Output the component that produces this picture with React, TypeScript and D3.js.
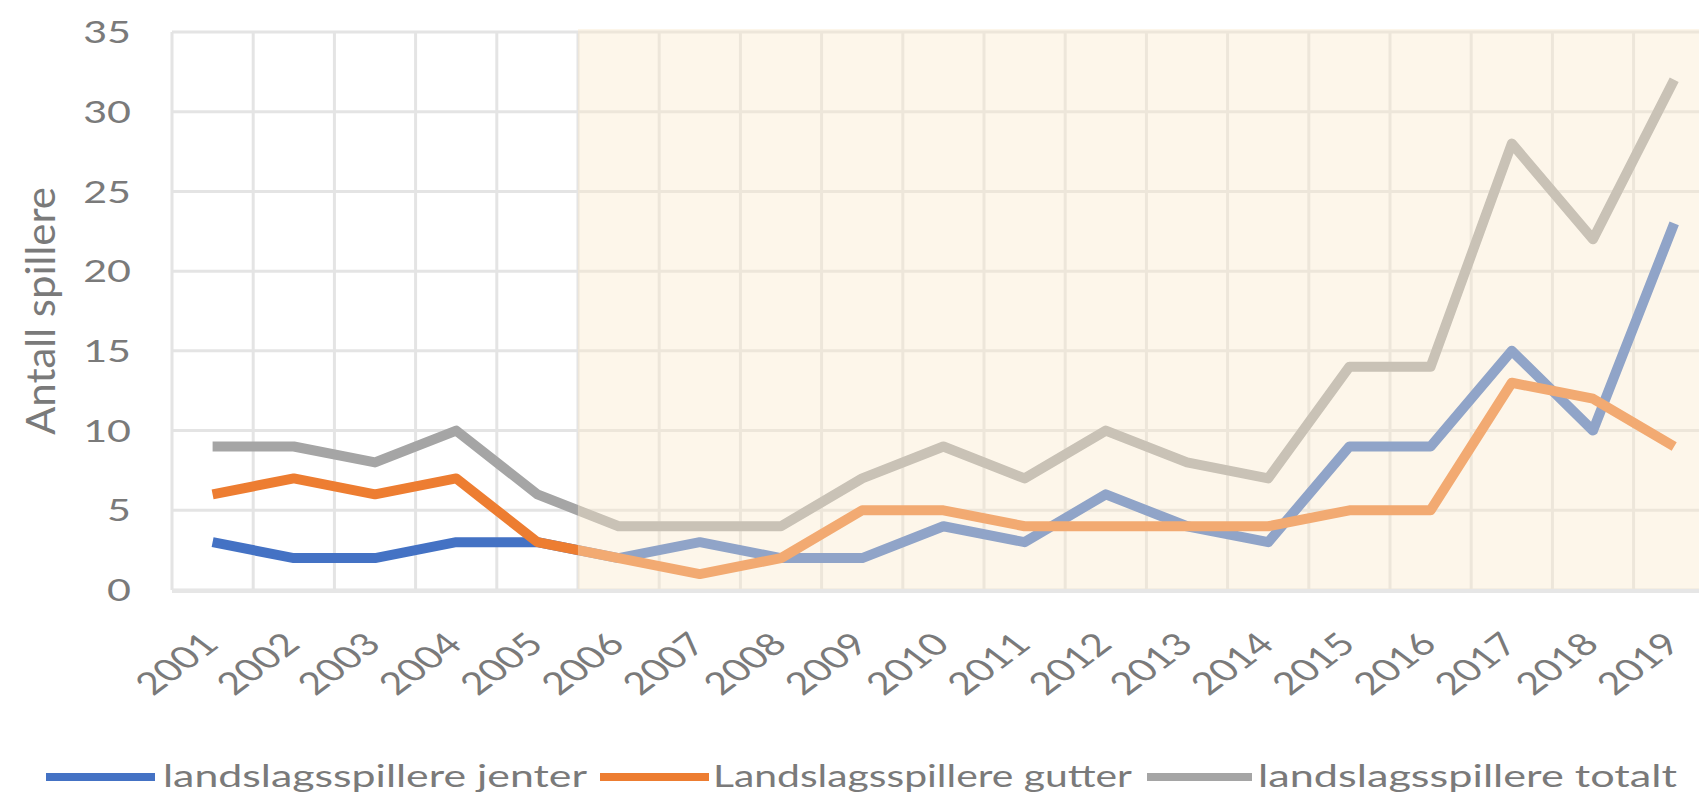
import * as d3 from "d3";

const years = ["2001", "2002", "2003", "2004", "2005", "2006", "2007", "2008", "2009", "2010",
  "2011", "2012", "2013", "2014", "2015", "2016", "2017", "2018", "2019"];
const jenter = [3, 2, 2, 3, 3, 2, 3, 2, 2, 4, 3, 6, 4, 3, 9, 9, 15, 10, 23];
const gutter = [6, 7, 6, 7, 3, 2, 1, 2, 5, 5, 4, 4, 4, 4, 5, 5, 13, 12, 9];
const totalt = [9, 9, 8, 10, 6, 4, 4, 4, 7, 9, 7, 10, 8, 7, 14, 14, 28, 22, 32];
const yTicks = [0, 5, 10, 15, 20, 25, 30, 35];
const shadeFrom = "2006";

const series = [
  { name: "landslagsspillere jenter", values: jenter, color: "#4472C4" },
  { name: "Landslagsspillere gutter", values: gutter, color: "#ED7D31" },
  { name: "landslagsspillere totalt", values: totalt, color: "#A5A5A5" },
];

const W = 1699;
const H = 795;
const font = "Lato, 'Open Sans', sans-serif";
const textColor = "#7a7a7a";
const S = 1.33; // the picture is stretched sideways

export default function App() {
  const x = d3.scaleBand().domain(years).range([172, 172 + 19 * 81.2]).padding(0);
  const y = d3.scaleLinear().domain([0, 35]).range([590, 32]);
  const cx = (yr: string) => (x(yr) ?? 0) + x.bandwidth() / 2;

  const line = d3.line<number>()
    .x((_, i) => cx(years[i]))
    .y(d => y(d));

  const [x0, x1] = x.range();
  const shadeX = x(shadeFrom) ?? 0;
  const legendLines = [[46, 155], [600, 709], [1147, 1252]];
  const legendText = [[163, 424], [713, 419], [1258, 419]];

  return (
    <div style={{ position: "absolute", left: 0, top: 0 }}>
      <svg width={W} height={H} style={{ display: "block", background: "#fff" }}>
        {/* horizontal grid */}
        {yTicks.map(t => (
          <line key={"h" + t} x1={x0} x2={x1} y1={y(t)} y2={y(t)} stroke="#e4e4e4" strokeWidth={3} />
        ))}
        {/* vertical grid */}
        {years.map(yr => (
          <line key={"v" + yr} x1={x(yr)} x2={x(yr)} y1={y(35)} y2={y(0)} stroke="#e4e4e4" strokeWidth={3} />
        ))}

        {series.map(s => (
          <path key={s.name} d={line(s.values) ?? ""} fill="none" stroke={s.color}
            strokeWidth={10} strokeLinejoin="round" />
        ))}

        {/* cream overlay from 2006 */}
        <rect x={shadeX} y={y(35) - 3} width={x1 - shadeX} height={y(0) - y(35) + 2}
          fill="rgb(250,234,206)" fillOpacity={0.42} />

        <line x1={x0} x2={x1} y1={y(0) + 1} y2={y(0) + 1} stroke="#e6e6e6" strokeWidth={4} />

        {/* y ticks */}
        {yTicks.map(t => (
          <g key={"yt" + t} transform={`translate(131,${y(t)}) scale(${S},1)`}>
            <text textAnchor="end" dy="0.36em" fontFamily={font} fontSize={31} fill={textColor}>{t}</text>
          </g>
        ))}

        {/* x ticks */}
        {years.map(yr => (
          <g key={"xt" + yr} transform={`translate(${cx(yr) + 8},${646}) scale(${S},1) rotate(-45)`}>
            <text textAnchor="end" fontFamily={font} fontSize={31} fill={textColor}>{yr}</text>
          </g>
        ))}

        {/* y label */}
        <g transform={`translate(55,${(y(0) + y(35)) / 2}) scale(${S},1) rotate(-90)`}>
          <text textAnchor="middle" fontFamily={font} fontSize={31} fill={textColor}
            textLength={248} lengthAdjust="spacingAndGlyphs">Antall spillere</text>
        </g>

        {/* legend */}
        {series.map((s, i) => (
          <g key={"lg" + i}>
            <line x1={legendLines[i][0]} x2={legendLines[i][1]} y1={777} y2={777}
              stroke={s.color} strokeWidth={8} />
            <text x={legendText[i][0]} y={776} dy="0.36em" fontFamily={font} fontSize={30}
              fill={textColor} textLength={legendText[i][1]} lengthAdjust="spacingAndGlyphs">{s.name}</text>
          </g>
        ))}
      </svg>
    </div>
  );
}
